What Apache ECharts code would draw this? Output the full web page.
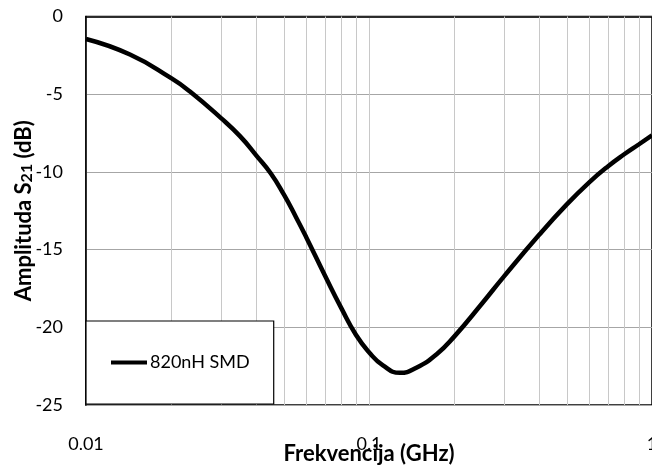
<!DOCTYPE html>
<html>
<head>
<meta charset="utf-8">
<script src="https://cdn.jsdelivr.net/npm/echarts@6/dist/echarts.min.js"></script>
<style>html,body{margin:0;padding:0;background:#fff}#c{width:652px;height:467px}</style>
</head>
<body>
<div id="c"></div>
<script>
// Frequency (GHz) and amplitude S21 (dB)
var freqs = [0.01, 0.0143, 0.02, 0.0233, 0.03, 0.035, 0.04, 0.045, 0.05, 0.055, 0.06, 0.07, 0.08, 0.09, 0.1, 0.112, 0.1287, 0.147, 0.173, 0.2, 0.25, 0.3, 0.4, 0.5, 0.6, 0.7, 0.8, 0.9, 1.0];
var amps  = [-1.45, -2.45, -3.97, -4.83, -6.54, -7.7, -8.95, -10.1, -11.45, -12.85, -14.2, -16.7, -18.8, -20.5, -21.6, -22.45, -22.93, -22.6, -21.75, -20.6, -18.5, -16.72, -14.03, -12.09, -10.67, -9.63, -8.85, -8.22, -7.65];
var xTickLabels = ['0.01', '0.1', '1'];
var minorGrid = [0.02, 0.03, 0.04, 0.05, 0.06, 0.07, 0.08, 0.09, 0.2, 0.3, 0.4, 0.5, 0.6, 0.7, 0.8, 0.9];
var seriesName = '820nH SMD';

var chart = echarts.init(document.getElementById('c'), null, {renderer: 'canvas'});
var FONT = 'Lato';
var pts = freqs.map(function (f, i) { return [f, amps[i]]; });
chart.setOption({
  backgroundColor: '#fff',
  animation: false,
  grid: {left: 86, top: 16.5, right: 0, bottom: 62, show: true, borderColor: '#000', borderWidth: 1.5, backgroundColor: 'transparent',
         containLabel: false, outerBoundsMode: 'none'},
  xAxis: {
    type: 'log', logBase: 10, min: 0.01, max: 1,
    axisLine: {show: true, lineStyle: {color: '#000', width: 1.5}},
    axisTick: {show: false},
    splitLine: {show: true, lineStyle: {color: '#c8c8c8', width: 1}},
    axisLabel: {margin: 30, fontFamily: FONT, fontSize: 18, color: '#000', alignMaxLabel: 'center', alignMinLabel: 'center',
      formatter: function (v) { var i = Math.round(Math.log10(v) + 2); return xTickLabels[i] || ''; }},
    name: 'Frekvencija (GHz)', nameLocation: 'middle', nameGap: 38, nameMoveOverlap: false,
    nameTextStyle: {fontFamily: FONT, fontSize: 22, fontWeight: 'bold', color: '#000'}
  },
  yAxis: {
    type: 'value', min: -25, max: 0, interval: 5,
    axisLine: {show: true, onZero: false, lineStyle: {color: '#000', width: 1.5}},
    axisTick: {show: false},
    splitLine: {show: true, lineStyle: {color: '#a6a6a6', width: 1}},
    axisLabel: {margin: 23, fontFamily: FONT, fontSize: 18, color: '#000'},
    name: '{a|Amplituda S}{s|21}{a| (dB)}', nameLocation: 'middle', nameGap: 51, nameMoveOverlap: false,
    nameTextStyle: {fontFamily: FONT, fontSize: 22, fontWeight: 'bold', color: '#000',
      rich: {a: {fontFamily: FONT, fontSize: 22, fontWeight: 'bold', color: '#000'},
             s: {fontFamily: FONT, fontSize: 16, fontWeight: 'bold', color: '#000', verticalAlign: 'bottom'}}}
  },
  legend: {
    data: [seriesName], left: 86, top: 321, orient: 'horizontal',
    backgroundColor: '#fff', borderColor: '#000', borderWidth: 1.2,
    padding: [32.5, 24, 32.5, 25], itemWidth: 36, itemHeight: 14, itemGap: 4,
    icon: 'path://M0,5 L36,5 L36,9 L0,9 Z',
    textStyle: {fontFamily: FONT, fontSize: 18, color: '#000', padding: [0, 0, 0, -2]}
  },
  series: [
    {
      name: seriesName, type: 'line', data: pts, smooth: 0.5, showSymbol: false,
      lineStyle: {color: '#000', width: 4.5}, itemStyle: {color: '#000'}, z: 5,
      markLine: {
        silent: true, symbol: 'none', label: {show: false},
        lineStyle: {color: '#c8c8c8', width: 1, type: 'solid'},
        data: minorGrid.map(function (v) { return {xAxis: v}; }),
        z: 1
      }
    }
  ]
});
</script>
</body>
</html>
